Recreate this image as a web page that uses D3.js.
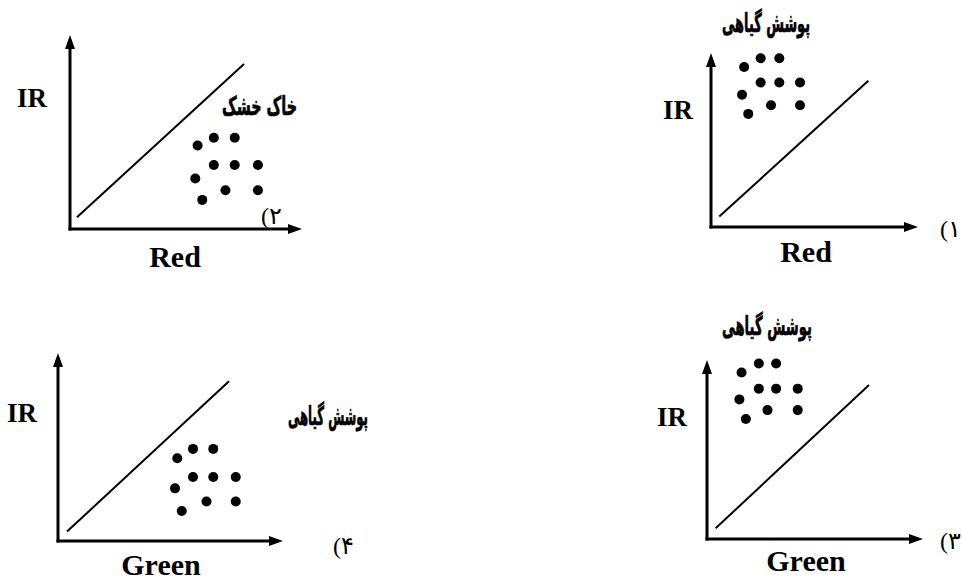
<!DOCTYPE html>
<meta charset="utf-8">
<script src="https://cdn.jsdelivr.net/npm/d3@7"></script>
<style>
body { margin: 0; background: #fff; }
.axis-line { stroke: #000; stroke-width: 3px; }
.diag { stroke: #000; stroke-width: 2px; }
.dot { fill: #000; }
.lat { font-family: "Liberation Serif", serif; font-weight: bold; fill: #000; }
.fa { font-family: "DejaVu Sans", sans-serif; font-weight: bold; fill: #000; stroke: #000; stroke-width: 0.7px; }
.num { font-family: "Liberation Serif", "DejaVu Sans", serif; fill: #000; }
</style>
<body>
<script>

// panel numbers / labels, panels ordered ۱..۴
var panelNums = ["۱", "۲", "۳", "۴"];
var xLabels = ["Red", "Red", "Green", "Green"];
var yLabel = "IR";
var classLabels = ["پوشش گیاهی", "خاک خشک", "پوشش گیاهی", "پوشش گیاهی"];

// point clouds (0-100 along each axis)
var dotsX = [
  [16, 24, 33, 24, 33, 43, 15, 29, 43, 18],
  [55, 62, 71, 62, 71, 81, 54, 67, 81, 57],
  [16, 24, 32, 24, 32, 42, 15, 28, 42, 18],
  [53, 60, 69, 60, 69, 79, 52, 66, 79, 55]
];
var dotsY = [
  [92, 97, 97, 83, 83, 83, 76, 70, 70, 65],
  [43, 47, 47, 33, 33, 33, 26, 20, 20, 15],
  [93, 98, 98, 84, 84, 84, 78, 72, 72, 67],
  [44, 49, 49, 34, 34, 34, 28, 21, 21, 16]
];

// the 1:1 line, start and end
var lineX = [[4, 76], [3, 75], [4, 75], [4, 76]];
var lineY = [[6, 84], [6, 85], [6, 86], [5, 85]];

// layout: axis corner, arrow tips, label anchors (cl = right edge, baseline, width)
var layout = [
  {ox: 711, oy: 227, tx: 918, ty: 53,
   ir: [693, 119], xl: [806, 262], cl: [810, 32, 88], nm: [940, 237]},
  {ox: 70, oy: 229, tx: 302, ty: 35,
   ir: [47, 107], xl: [175, 267], cl: [297, 115, 75], nm: [261, 224]},
  {ox: 707, oy: 539, tx: 923, ty: 360,
   ir: [687, 426], xl: [806, 571], cl: [812, 335, 90], nm: [940, 549]},
  {ox: 58, oy: 541, tx: 283, ty: 353,
   ir: [37, 422], xl: [161, 575], cl: [368, 425, 80], nm: [333, 554]}
];

var width = 962, height = 582;

var svg = d3.select("body").append("svg")
    .attr("width", width)
    .attr("height", height);

svg.append("defs").append("marker")
    .attr("id", "arrow")
    .attr("viewBox", "0 0 14 10")
    .attr("refX", 8)
    .attr("refY", 5)
    .attr("markerWidth", 14)
    .attr("markerHeight", 10)
    .attr("markerUnits", "userSpaceOnUse")
    .attr("orient", "auto")
  .append("path")
    .attr("d", "M0,0L14,5L0,10z")
    .attr("fill", "#000");

layout.forEach(function(p, i) {
  var x = d3.scaleLinear().domain([0, 100]).range([p.ox, p.tx]);
  var y = d3.scaleLinear().domain([0, 100]).range([p.oy, p.ty]);
  var g = svg.append("g");

  // axes with arrow heads (shaft stops short so the head makes the tip)
  g.append("line")
      .attr("class", "axis-line")
      .attr("x1", x(0) - 1.5).attr("y1", y(0))
      .attr("x2", x(100) - 6).attr("y2", y(0))
      .attr("marker-end", "url(#arrow)");
  g.append("line")
      .attr("class", "axis-line")
      .attr("x1", x(0)).attr("y1", y(0) + 1.5)
      .attr("x2", x(0)).attr("y2", y(100) + 6)
      .attr("marker-end", "url(#arrow)");

  g.append("line")
      .attr("class", "diag")
      .attr("x1", x(lineX[i][0])).attr("y1", y(lineY[i][0]))
      .attr("x2", x(lineX[i][1])).attr("y2", y(lineY[i][1]));

  g.selectAll(".dot")
      .data(d3.zip(dotsX[i], dotsY[i]))
      .enter().append("circle")
      .attr("class", "dot")
      .attr("cx", function(d) { return x(d[0]); })
      .attr("cy", function(d) { return y(d[1]); })
      .attr("r", 5);

  g.append("text")
      .attr("class", "lat")
      .attr("x", p.ir[0]).attr("y", p.ir[1])
      .attr("text-anchor", "end")
      .style("font-size", "27px")
      .text(yLabel);

  g.append("text")
      .attr("class", "lat")
      .attr("x", p.xl[0]).attr("y", p.xl[1])
      .attr("text-anchor", "middle")
      .style("font-size", "30px")
      .text(xLabels[i]);

  // persian label: squeeze DejaVu's wide arabic to the reference width
  var cl = g.append("text")
      .attr("class", "fa")
      .attr("x", 0).attr("y", 0)
      .attr("direction", "rtl")
      .attr("text-anchor", "start")
      .style("font-size", "26px")
      .text(classLabels[i]);
  var w = cl.node().getComputedTextLength();
  cl.attr("transform", "translate(" + p.cl[0] + "," + p.cl[1] + ") scale(" + (p.cl[2] / w) + ",1)");

  // "(n" drawn as two pieces so bidi can't flip the bracket
  g.append("text")
      .attr("class", "num")
      .attr("x", p.nm[0]).attr("y", p.nm[1])
      .style("font-size", "24px")
      .text("(");
  g.append("text")
      .attr("class", "num")
      .attr("x", p.nm[0] + 8).attr("y", p.nm[1])
      .style("font-size", "24px")
      .text(panelNums[i]);
});

</script>
</body>
